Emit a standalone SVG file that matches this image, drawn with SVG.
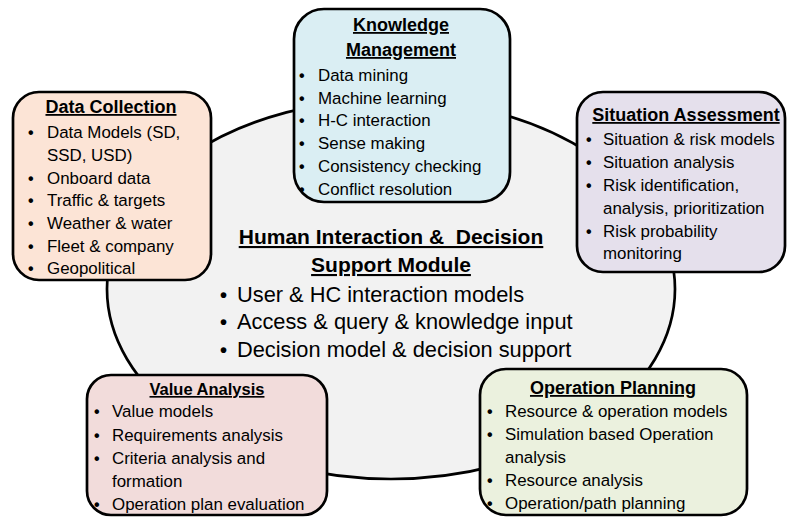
<svg xmlns="http://www.w3.org/2000/svg" width="787" height="517" viewBox="0 0 787 517">
<style>
.box{stroke:#000;stroke-width:2.7}
.t{font-family:"Liberation Sans",Arial,sans-serif;font-size:16.9px;fill:#000}
.h{font-family:"Liberation Sans",Arial,sans-serif;font-size:18px;font-weight:bold;fill:#000;text-anchor:middle;text-decoration:underline}
.b{font-family:"Liberation Sans",Arial,sans-serif;font-size:16px;font-weight:bold;fill:#000}
.ct{font-family:"Liberation Sans",Arial,sans-serif;font-size:21.8px;fill:#000}
.ch{font-family:"Liberation Sans",Arial,sans-serif;font-size:21px;font-weight:bold;fill:#000;text-anchor:middle;text-decoration:underline;white-space:pre}
</style>
<rect width="787" height="517" fill="#fff"/>
<g id="connectors"></g>
<g id="center">
<ellipse cx="391" cy="289" rx="284" ry="190" fill="#F2F2F2" stroke="#000" stroke-width="2.7"/>
<text class="ch" x="391" y="244" xml:space="preserve">Human Interaction &amp;  Decision</text>
<text class="ch" x="391" y="272">Support Module</text>
<text class="b" x="220" y="302" style="font-size:20px">•</text><text class="ct" x="237" y="302">User &amp; HC interaction models</text>
<text class="b" x="220" y="329" style="font-size:20px">•</text><text class="ct" x="237" y="329">Access &amp; query &amp; knowledge input</text>
<text class="b" x="220" y="357" style="font-size:20px">•</text><text class="ct" x="237" y="357">Decision model &amp; decision support</text>
</g>
<g id="data-collection">
<rect class="box" x="13" y="92" width="198" height="188" rx="26" fill="#FCE4D6"/>
<text class="h" x="111" y="113">Data Collection</text>
<text class="b" x="28" y="138">•</text><text class="t" x="47" y="138">Data Models (SD,</text>
<text class="t" x="47" y="161">SSD, USD)</text>
<text class="b" x="28" y="184">•</text><text class="t" x="47" y="184">Onboard data</text>
<text class="b" x="28" y="206">•</text><text class="t" x="47" y="206">Traffic &amp; targets</text>
<text class="b" x="28" y="229">•</text><text class="t" x="47" y="229">Weather &amp; water</text>
<text class="b" x="28" y="252">•</text><text class="t" x="47" y="252">Fleet &amp; company</text>
<text class="b" x="28" y="274">•</text><text class="t" x="47" y="274">Geopolitical</text>
</g>
<g id="knowledge-management">
<rect class="box" x="294" y="9" width="216" height="193" rx="30" fill="#DAEEF3"/>
<text class="h" x="401" y="31">Knowledge</text>
<text class="h" x="401" y="56">Management</text>
<text class="b" x="299" y="81">•</text><text class="t" x="318" y="81">Data mining</text>
<text class="b" x="299" y="104">•</text><text class="t" x="318" y="104">Machine learning</text>
<text class="b" x="299" y="126">•</text><text class="t" x="318" y="126">H-C interaction</text>
<text class="b" x="299" y="149">•</text><text class="t" x="318" y="149">Sense making</text>
<text class="b" x="299" y="172">•</text><text class="t" x="318" y="172">Consistency checking</text>
<text class="b" x="299" y="195">•</text><text class="t" x="318" y="195">Conflict resolution</text>
</g>
<g id="situation-assessment">
<rect class="box" x="577" y="92" width="208" height="180" rx="26" fill="#E5E0EC"/>
<text class="h" x="686" y="121">Situation Assessment</text>
<text class="b" x="586" y="145">•</text><text class="t" x="603" y="145">Situation &amp; risk models</text>
<text class="b" x="586" y="168">•</text><text class="t" x="603" y="168">Situation analysis</text>
<text class="b" x="586" y="191">•</text><text class="t" x="603" y="191">Risk identification,</text>
<text class="t" x="603" y="214">analysis, prioritization</text>
<text class="b" x="586" y="237">•</text><text class="t" x="603" y="237">Risk probability</text>
<text class="t" x="603" y="259">monitoring</text>
</g>
<g id="value-analysis">
<rect class="box" x="87" y="375" width="240" height="140" rx="24" fill="#F2DCDB"/>
<text class="h" x="207" y="395" style="font-size:16.5px">Value Analysis</text>
<text class="b" x="94" y="417">•</text><text class="t" x="112" y="417">Value models</text>
<text class="b" x="94" y="441">•</text><text class="t" x="112" y="441">Requirements analysis</text>
<text class="b" x="94" y="464">•</text><text class="t" x="112" y="464">Criteria analysis and</text>
<text class="t" x="112" y="487">formation</text>
<text class="b" x="94" y="510">•</text><text class="t" x="112" y="510">Operation plan evaluation</text>
</g>
<g id="operation-planning">
<rect class="box" x="480" y="369" width="267" height="146" rx="26" fill="#EBF1DE"/>
<text class="h" x="613" y="394">Operation Planning</text>
<text class="b" x="487" y="417">•</text><text class="t" x="505" y="417">Resource &amp; operation models</text>
<text class="b" x="487" y="440">•</text><text class="t" x="505" y="440">Simulation based Operation</text>
<text class="t" x="505" y="463">analysis</text>
<text class="b" x="487" y="486">•</text><text class="t" x="505" y="486">Resource analysis</text>
<text class="b" x="487" y="509">•</text><text class="t" x="505" y="509">Operation/path planning</text>
</g>
</svg>
